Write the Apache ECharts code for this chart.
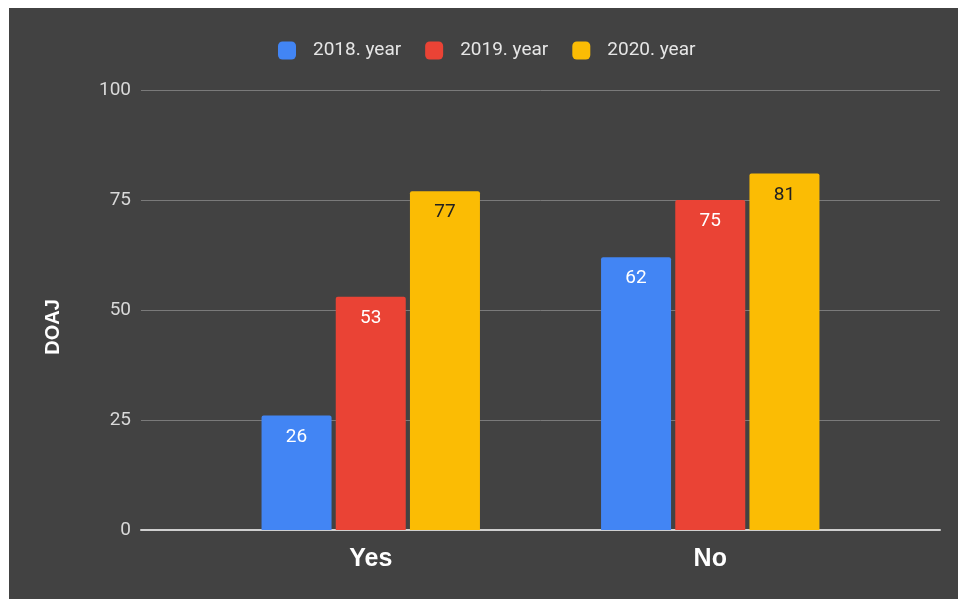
<!DOCTYPE html>
<html>
<head>
<meta charset="utf-8">
<script src="https://cdn.jsdelivr.net/npm/echarts@6/dist/echarts.min.js"></script>
<style>
  html, body { margin: 0; padding: 0; background: #ffffff; }
  #chart { position: absolute; left: 9px; top: 8px; width: 949px; height: 591px; background: #424242; }
</style>
</head>
<body>
<div id="chart"></div>
<script>
// DOAJ counts by answer and year
const categories = ['Yes', 'No'];
const seriesNames = ['2018. year', '2019. year', '2020. year'];
const values2018 = [26, 62];
const values2019 = [53, 75];
const values2020 = [77, 81];
const yTicks = { min: 0, max: 100, interval: 25 };
const axisTitle = 'DOAJ';
const colors = ['#4285f4', '#ea4335', '#fbbc04'];
const labelColors = ['#ffffff', '#ffffff', '#212121'];

const chart = echarts.init(document.getElementById('chart'), null, { renderer: 'canvas' });

const seriesData = [values2018, values2019, values2020];
const series = seriesData.map((vals, i) => ({
  name: seriesNames[i],
  type: 'bar',
  xAxisIndex: 1,
  yAxisIndex: 1,
  data: vals,
  barWidth: 70,
  barGap: '6%',
  itemStyle: { color: colors[i], borderRadius: [2, 2, 0, 0] },
  label: {
    show: true,
    position: 'insideTop',
    distance: 12,
    color: labelColors[i],
    fontFamily: 'Roboto',
    fontSize: 19
  }
}));

chart.setOption({
  backgroundColor: '#424242',
  animation: false,
  color: colors,
  legend: {
    top: 28,
    left: 264,
    itemWidth: 18,
    itemHeight: 18,
    itemGap: 24,
    icon: 'roundRect',
    data: seriesNames,
    textStyle: { color: '#e6e6e6', fontFamily: 'Roboto', fontSize: 19, padding: [0, 0, 0, 12] }
  },
  graphic: [{
    type: 'text',
    x: 44,
    y: 319,
    rotation: Math.PI / 2,
    style: {
      text: axisTitle,
      fill: '#ffffff',
      font: 'bold 20px "Liberation Sans", Arial, sans-serif',
      textAlign: 'center',
      textVerticalAlign: 'middle'
    }
  }],
  grid: [
    { left: 132, right: 18, top: 82, bottom: 69 },
    { left: 192, right: 78, top: 82, bottom: 69 }
  ],
  xAxis: [
    {
      gridIndex: 0,
      type: 'category',
      data: [''],
      axisLine: { show: true, lineStyle: { color: '#cfcfcf', width: 2 } },
      axisTick: { show: false },
      axisLabel: { show: false }
    },
    {
      gridIndex: 1,
      type: 'category',
      data: categories,
      axisLine: { show: false },
      axisTick: { show: false },
      axisLabel: {
        color: '#ffffff',
        fontFamily: 'Liberation Sans',
        fontWeight: 'bold',
        fontSize: 25,
        margin: 17
      }
    }
  ],
  yAxis: [
    {
      gridIndex: 0,
      type: 'value',
      min: yTicks.min,
      max: yTicks.max,
      interval: yTicks.interval,
      axisLine: { show: false },
      axisTick: { show: false },
      axisLabel: { color: '#d9d9d9', fontFamily: 'Roboto', fontSize: 19, margin: 10 },
      splitLine: { lineStyle: { color: '#7a7a7a', width: 1 } }
    },
    {
      gridIndex: 1,
      type: 'value',
      min: yTicks.min,
      max: yTicks.max,
      interval: yTicks.interval,
      show: false,
      splitLine: { show: false }
    }
  ],
  series: series
});
</script>
</body>
</html>
